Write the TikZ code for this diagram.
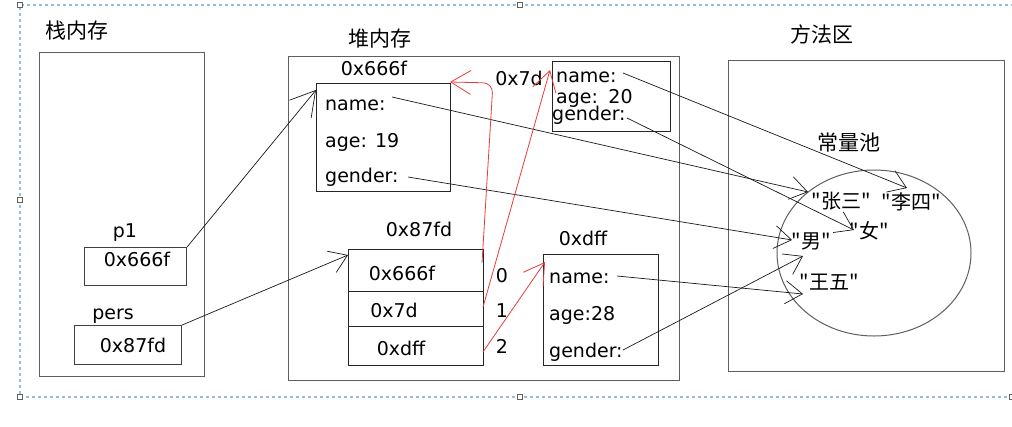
\documentclass[tikz,border=0pt]{standalone}
\usepackage{fontspec}
\setmainfont{DejaVu Sans}
\newfontfamily\cjk{Noto Sans CJK SC}
\usetikzlibrary{arrows.meta,shapes.geometric}
\definecolor{penred}{RGB}{234,60,60}
\definecolor{selblue}{RGB}{150,190,225}
\definecolor{boxgray}{RGB}{95,95,95}
\begin{document}
\begin{tikzpicture}[x=1pt,y=-1pt,
  region/.style={draw=boxgray, line width=1.3pt, anchor=north west, inner sep=0pt},
  objbox/.style={draw=black!85, line width=1.2pt, anchor=north west, inner sep=0pt},
  lbl/.style={inner sep=0pt, font=\fontsize{19}{19}\selectfont, anchor=base},
  fld/.style={inner sep=0pt, font=\fontsize{19}{19}\selectfont, anchor=base west},
  zh/.style={inner sep=0pt, font=\cjk\fontsize{21}{21}\selectfont},
  str/.style={inner sep=0pt, font=\cjk\fontsize{20}{20}\selectfont},
  ref/.style={draw=black!90, line width=0.7pt, -{Straight Barb[length=17pt,width=23pt,line width=0.7pt]}},
  bigref/.style={ref, -{Straight Barb[length=24pt,width=28pt,line width=0.7pt]}},
  redref/.style={draw=penred, line width=0.8pt, -{Straight Barb[length=20pt,width=24pt,line width=0.8pt]}},
  handle/.style={draw=boxgray, fill=white, line width=0.6pt, minimum size=5pt, inner sep=0pt},
  frame/.style={draw=selblue, line width=1.2pt, dash pattern=on 3pt off 3pt}
]
\useasboundingbox (0,0) rectangle (1012,426);
\fill[white] (0,0) rectangle (1012,426);

% selection frame
\coordinate (f1) at (20,5);
\coordinate (f2) at (1020,5);
\coordinate (f3) at (20,397);
\coordinate (f4) at (1020,397);
\draw[frame] (f2) -- (f1) -- (f3) -- (f4);
\node[handle] (h1) at (20,5) {};
\node[handle] (h2) at (520,5) {};
\node[handle] (h3) at (20,200) {};
\node[handle] (h4) at (20,397) {};
\node[handle] (h5) at (520,397) {};
\node[handle] (h6) at (1012,397) {};

% regions
\node[region, minimum width=165pt, minimum height=324pt] (stack) at (39,52) {};
\node[zh] (stacklbl) at (77,31) {栈内存};
\node[region, minimum width=391pt, minimum height=324pt] (heap) at (288,56) {};
\node[zh] (heaplbl) at (380,39) {堆内存};
\node[region, minimum width=276pt, minimum height=311pt] (method) at (728,60) {};
\node[zh] (methodlbl) at (822,34) {方法区};
\node[zh] (poollbl) at (849,143) {常量池};
\node[ellipse, draw=boxgray, line width=1pt, minimum width=194pt, minimum height=166pt, inner sep=0pt] (pool) at (874,253) {};

% stack variables
\node[lbl] (p1lbl) at (125,237) {p1};
\node[region, draw=black!75, line width=1.1pt, minimum width=102pt, minimum height=38pt] (p1box) at (84,247) {};
\node[lbl] (p1val) at (137,266) {0x666f};
\node[lbl] (perslbl) at (113,319) {pers};
\node[region, draw=black!75, line width=1.1pt, minimum width=107pt, minimum height=39pt] (persbox) at (74,325) {};
\node[lbl] (persval) at (133,352) {0x87fd};

% object 0x666f
\node[lbl] (a666) at (374,75) {0x666f};
\node[objbox, minimum width=134pt, minimum height=108pt] (obj666) at (316,83) {};
\node[fld] (n666) at (325,110) {name:};
\node[fld] (g666age) at (325,147) {age: 19};
\node[fld] (s666) at (325,182) {gender:};

% object 0x7d
\node[lbl] (a7d) at (519,85) {0x7d};
\node[objbox, minimum width=118pt, minimum height=70pt] (obj7d) at (552,61) {};
\node[fld] (n7d) at (556,82) {name:};
\node[fld] (g7dage) at (556,103) {age:\hspace{0.55em}20};
\node[fld] (s7d) at (552,120) {gender:};

% array 0x87fd
\node[lbl] (a87fd) at (419,236) {0x87fd};
\node[objbox, minimum width=135pt, minimum height=42pt] (row0) at (348,249) {};
\node[objbox, minimum width=135pt, minimum height=35pt] (row1) at (348,291) {};
\node[objbox, minimum width=135pt, minimum height=39pt] (row2) at (348,326) {};
\node[lbl] (v0) at (402,280) {0x666f};
\node[lbl] (v1) at (394,317) {0x7d};
\node[lbl] (v2) at (401,355) {0xdff};
\node[lbl] (i0) at (502,282) {0};
\node[lbl] (i1) at (502,317) {1};
\node[lbl] (i2) at (502,353) {2};

% object 0xdff
\node[lbl] (adff) at (583,245) {0xdff};
\node[objbox, minimum width=115pt, minimum height=111pt] (objdff) at (543,254) {};
\node[fld] (ndff) at (549,283) {name:};
\node[fld] (gdffage) at (549,320) {age:28};
\node[fld] (sdff) at (549,357) {gender:};

% constant pool strings
\node[str] (zs) at (841,201) {"张三"};
\node[str] (ls) at (911,202) {"李四"};
\node[str] (nv) at (869,231) {"女"};
\node[str] (nan) at (811,241) {"男"};
\node[str] (ww) at (829,282) {"王五"};

% connector end points
\coordinate (c666) at (316,90);
\coordinate (c87fd) at (348,255);
\coordinate (cn666) at (392,97);
\coordinate (cs666) at (408,177);
\coordinate (cn7d) at (623,73);
\coordinate (cs7d) at (627,118);
\coordinate (cndff) at (617,276);
\coordinate (csdff) at (623,350);
\coordinate (tzs) at (808,192);
\coordinate (tls) at (907,188);
\coordinate (tnv) at (854,230);
\coordinate (tnan) at (792,240);
\coordinate (tnan2) at (803,256);
\coordinate (tww) at (803,294);
\coordinate (r0) at (482,263);
\coordinate (r1) at (483,307);
\coordinate (r2) at (483,352);
\coordinate (rbend) at (493,83);
\coordinate (t666) at (450,82);
\coordinate (t7d) at (550,70);
\coordinate (tdff) at (545,262);

% black references
\draw[bigref] (p1box.north east) -- (c666);
\draw[ref] (persbox.north east) -- (c87fd);
\draw[ref] (cn666) -- (tzs);
\draw[ref] (cs666) -- (tnan);
\draw[ref] (cn7d) -- (tls);
\draw[ref] (cs7d) -- (tnv);
\draw[ref] (cndff) -- (tww);
\draw[ref] (csdff) -- (tnan2);

% red references
\draw[redref, rounded corners=10pt] (r0) -- (rbend) -- (t666);
\draw[redref] (r1) -- (t7d);
\draw[redref] (r2) -- (tdff);
\end{tikzpicture}
\end{document}
